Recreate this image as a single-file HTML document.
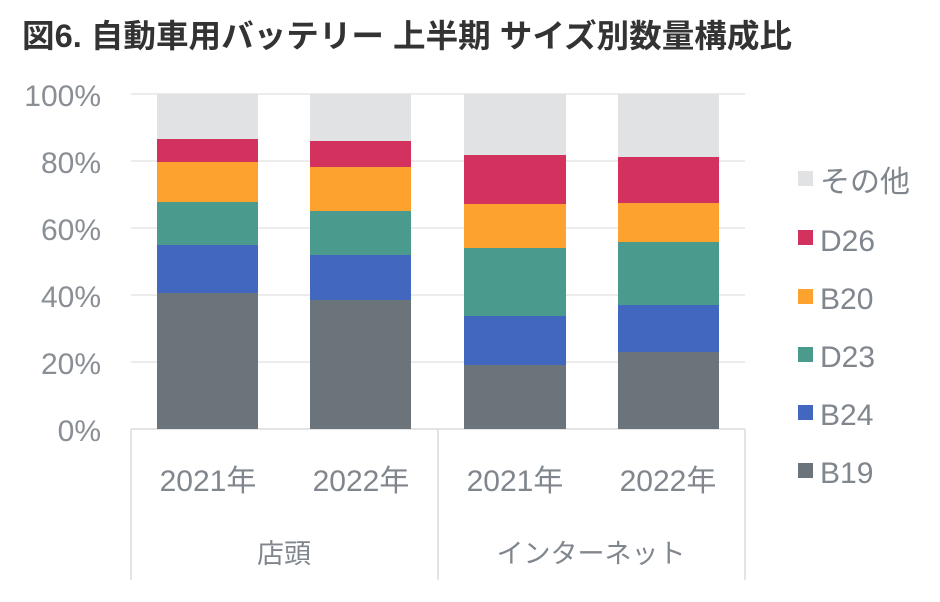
<!DOCTYPE html>
<html><head><meta charset="utf-8"><style>
body{margin:0;background:#fff;width:940px;height:597px;overflow:hidden}
svg text{font-family:"Liberation Sans","Noto Sans CJK JP",sans-serif}
</style></head><body>
<svg width="940" height="597" xmlns="http://www.w3.org/2000/svg">
<text x="22" y="47" font-size="32" font-weight="bold" fill="#333" textLength="770" lengthAdjust="spacingAndGlyphs">図6. 自動車用バッテリー 上半期 サイズ別数量構成比</text>
<g stroke="#e6e6e6" stroke-width="1.5">
<line x1="131" x2="745" y1="94" y2="94"/><line x1="131" x2="745" y1="161" y2="161"/>
<line x1="131" x2="745" y1="228" y2="228"/><line x1="131" x2="745" y1="295" y2="295"/>
<line x1="131" x2="745" y1="362" y2="362"/>
</g>
<g stroke="#dcdcdc" stroke-width="1.5">
<line x1="131" x2="745" y1="429" y2="429"/>
<line x1="131" x2="131" y1="429" y2="580"/>
<line x1="438" x2="438" y1="429" y2="580"/>
<line x1="745" x2="745" y1="429" y2="580"/>
</g>
<g font-size="30" fill="#8a8f96" text-anchor="end">
<text x="101" y="106">100%</text><text x="101" y="173">80%</text><text x="101" y="240">60%</text>
<text x="101" y="307">40%</text><text x="101" y="374">20%</text><text x="101" y="441">0%</text>
</g>
<rect x="157" y="94" width="101" height="45" fill="#e1e2e4"/>
<rect x="157" y="139" width="101" height="23" fill="#d4325e"/>
<rect x="157" y="162" width="101" height="40" fill="#fda22e"/>
<rect x="157" y="202" width="101" height="43" fill="#4a9a8e"/>
<rect x="157" y="245" width="101" height="48" fill="#4267bf"/>
<rect x="157" y="293" width="101" height="136" fill="#6b747b"/>
<rect x="310" y="94" width="101" height="47" fill="#e1e2e4"/>
<rect x="310" y="141" width="101" height="26" fill="#d4325e"/>
<rect x="310" y="167" width="101" height="44" fill="#fda22e"/>
<rect x="310" y="211" width="101" height="44" fill="#4a9a8e"/>
<rect x="310" y="255" width="101" height="45" fill="#4267bf"/>
<rect x="310" y="300" width="101" height="129" fill="#6b747b"/>
<rect x="464" y="94" width="102" height="61" fill="#e1e2e4"/>
<rect x="464" y="155" width="102" height="49" fill="#d4325e"/>
<rect x="464" y="204" width="102" height="44" fill="#fda22e"/>
<rect x="464" y="248" width="102" height="68" fill="#4a9a8e"/>
<rect x="464" y="316" width="102" height="49" fill="#4267bf"/>
<rect x="464" y="365" width="102" height="64" fill="#6b747b"/>
<rect x="618" y="94" width="101" height="63" fill="#e1e2e4"/>
<rect x="618" y="157" width="101" height="46" fill="#d4325e"/>
<rect x="618" y="203" width="101" height="39" fill="#fda22e"/>
<rect x="618" y="242" width="101" height="63" fill="#4a9a8e"/>
<rect x="618" y="305" width="101" height="47" fill="#4267bf"/>
<rect x="618" y="352" width="101" height="77" fill="#6b747b"/>
<g font-size="30" fill="#80868d" text-anchor="middle">
<text x="208" y="491">2021年</text><text x="361" y="491">2022年</text>
<text x="515" y="491">2021年</text><text x="668" y="491">2022年</text>
<text x="284" y="563" font-size="27">店頭</text><text x="591" y="563" font-size="27">インターネット</text>
</g>
<g font-size="30" fill="#80868d">
<rect x="798" y="171" width="15" height="15" fill="#e1e2e4"/><text x="820" y="192">その他</text>
<rect x="798" y="230" width="15" height="15" fill="#d4325e"/><text x="820" y="251">D26</text>
<rect x="798" y="289" width="15" height="15" fill="#fda22e"/><text x="820" y="309">B20</text>
<rect x="798" y="347" width="15" height="15" fill="#4a9a8e"/><text x="820" y="367">D23</text>
<rect x="798" y="405" width="15" height="15" fill="#4267bf"/><text x="820" y="425">B24</text>
<rect x="798" y="463" width="15" height="15" fill="#6b747b"/><text x="820" y="483">B19</text>
</g>
</svg>
</body></html>
